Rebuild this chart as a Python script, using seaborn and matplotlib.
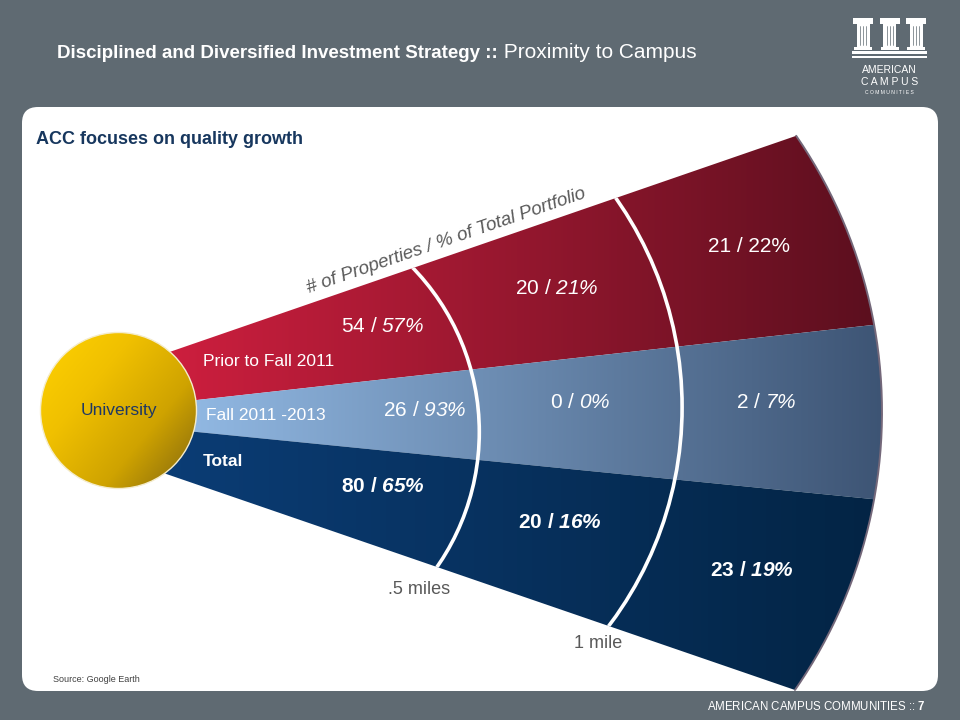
import numpy as np
import matplotlib
matplotlib.use("Agg")
import matplotlib.pyplot as plt
import seaborn as sns
from matplotlib.patches import Polygon, Circle, FancyBboxPatch, Rectangle

# data
bands = ["Prior to Fall 2011", "Fall 2011 -2013", "Total"]
rings = [".5 miles", "1 mile"]
prior_count = [54, 20, 21]
prior_pct = [57, 21, 22]
recent_count = [26, 0, 2]
recent_pct = [93, 0, 7]
total_count = [80, 20, 23]
total_pct = [65, 16, 19]

sns.set_theme(style="white")
plt.rcParams["font.family"] = ["Liberation Sans", "DejaVu Sans"]
plt.rcParams["mathtext.fontset"] = "custom"
plt.rcParams["mathtext.rm"] = "Liberation Sans"
plt.rcParams["mathtext.sf"] = "Liberation Sans:italic"   # italic digits (\mathit forces upright digits)
plt.rcParams["mathtext.bf"] = "Liberation Sans:bold"
plt.rcParams["mathtext.bfit"] = "Liberation Sans:italic:bold"

BG = "#5f6a72"
NAVY = "#17375e"
GREY = "#595959"

# fan geometry (pixel space, y down)
edges = [(413, 268, -0.345), (197, 400, -0.111), (197, 432, 0.0993), (437, 567, 0.3436)]
oc, R = (394.6, 412.0), 487.4
arcs = [((243.1, 432.1), 236.2), ((319.1, 407.2), 363.0)]
band_cols = [("#d01f3f", "#5a0f1e"), ("#96bee9", "#3d5474"), ("#0b3d76", "#032444")]


def line_y(line, x):
    x0, y0, m = line
    return y0 + m * (np.asarray(x) - x0)


def hit(line):
    x0, y0, m = line
    a = y0 - m * x0
    A = 1 + m * m
    B = -2 * oc[0] + 2 * m * (a - oc[1])
    C = oc[0] ** 2 + (a - oc[1]) ** 2 - R * R
    return (-B + np.sqrt(B * B - 4 * A * C)) / (2 * A)


def fan_xy(upper, lower, x_start=90):
    xu, xl = hit(upper), hit(lower)
    tx = np.linspace(x_start, xu, 40)
    a0 = np.arctan2(line_y(upper, xu) - oc[1], xu - oc[0])
    a1 = np.arctan2(line_y(lower, xl) - oc[1], xl - oc[0])
    t = np.linspace(a0, a1, 150)
    bx = np.linspace(xl, x_start, 40)
    return np.vstack([np.c_[tx, line_y(upper, tx)],
                      np.c_[oc[0] + R * np.cos(t), oc[1] + R * np.sin(t)],
                      np.c_[bx, line_y(lower, bx)]])


fig = plt.figure(figsize=(9.6, 7.2), dpi=100)
fig.patch.set_facecolor(BG)
ax = fig.add_axes([0, 0, 1, 1])
ax.set_facecolor(BG)

ax.add_patch(FancyBboxPatch((22, 107), 916, 584, boxstyle="round,pad=0,rounding_size=16",
                            fc="white", ec="none", zorder=1))

# gradient bands
for i, (c0, c1) in enumerate(band_cols):
    poly = Polygon(fan_xy(edges[i], edges[i + 1]), closed=True, fc="none", ec="none")
    ax.add_patch(poly)
    cmap = sns.blend_palette([c0, c1], as_cmap=True)
    im = ax.imshow(np.linspace(0, 1, 256)[None, :], cmap=cmap, extent=(150, 885, 700, 110),
                   aspect="auto", interpolation="bilinear", zorder=2)
    im.set_clip_path(poly)

# outer rim and white distance arcs
full = Polygon(fan_xy(edges[0], edges[-1]), closed=True, fc="none", ec="none")
ax.add_patch(full)
xu, xl = hit(edges[0]), hit(edges[-1])
t = np.linspace(np.arctan2(line_y(edges[0], xu) - oc[1], xu - oc[0]),
                np.arctan2(line_y(edges[-1], xl) - oc[1], xl - oc[0]), 200)
ax.plot(oc[0] + R * np.cos(t), oc[1] + R * np.sin(t), color="#74687a", lw=1.4, zorder=3)
for c, r in arcs:
    ring = Circle(c, r, fill=False, ec="white", lw=2.6, zorder=4)
    ax.add_patch(ring)
    ring.set_clip_path(full)

# university circle
cc, cr = (118.5, 410.5), 78
yy, xx = np.mgrid[0:1:200j, 0:1:200j]
gold = sns.blend_palette(["#ffd200", "#f0c000", "#cfa300", "#806510"], as_cmap=True)
disc = Circle(cc, cr, fc="none", ec="none")
ax.add_patch(disc)
im = ax.imshow((xx * 0.55 + yy * 0.45), cmap=gold,
               extent=(cc[0] - cr, cc[0] + cr, cc[1] + cr, cc[1] - cr),
               aspect="auto", interpolation="bilinear", zorder=5)
im.set_clip_path(disc)
ax.add_patch(Circle(cc, cr, fill=False, ec="#f4eccc", lw=1.0, zorder=6))
ax.text(cc[0], cc[1], "University", color="#1f3864", fontsize=12.5, ha="center", va="center", zorder=7)

# band names
cat_pos = [(203, 362), (206, 415), (203, 462)]
for name, (x, y), w in zip(bands, cat_pos, ["normal", "normal", "bold"]):
    ax.text(x, y, name, color="white", fontsize=12.5, fontweight=w, ha="left", va="center", zorder=7)

# value labels
label_pos = [[(383, 326), (557, 288), (749, 246)],
             [(425, 411), (580, 403), (766, 403)],
             [(383, 487), (560, 522), (752, 570)]]
pct_italic = [[True, True, False], [True, True, True], [True, True, True]]
rows = [(prior_count, prior_pct, "normal"), (recent_count, recent_pct, "normal"),
        (total_count, total_pct, "bold")]
for r, (cnt, pct, w) in enumerate(rows):
    for k in range(3):
        if pct_italic[r][k]:
            tag = r"\mathbfit" if w == "bold" else r"\mathsf"
            s = f"{cnt[k]} / ${tag}{{{pct[k]}\\%}}$"
        else:
            s = f"{cnt[k]} / {pct[k]}%"
        x, y = label_pos[r][k]
        ax.text(x, y, s, color="white", fontsize=15, fontweight=w, ha="center", va="center", zorder=7)

ax.text(446, 241, "# of Properties / % of Total Portfolio", color=GREY, fontsize=13.5, style="italic",
        rotation=19, rotation_mode="anchor", ha="center", va="center", zorder=7)
for s, (x, y) in zip(rings, [(419, 590), (598, 643)]):
    ax.text(x, y, s, color=GREY, fontsize=13, ha="center", va="center", zorder=7)

# titles and footer
t1 = ax.text(57, 53, "Disciplined and Diversified Investment Strategy ::", color="white", fontsize=13.5,
             fontweight="bold", ha="left", va="center")
ax.annotate(" Proximity to Campus", xy=(1, 0.5), xycoords=t1, color="white", fontsize=15,
            ha="left", va="center")
ax.text(36, 139, "ACC focuses on quality growth", color=NAVY, fontsize=13, fontweight="bold",
        ha="left", va="center", zorder=7)
ax.text(53, 680, "Source: Google Earth", color="#404040", fontsize=6.5, ha="left", va="center", zorder=7)
ax.text(926, 707, r"AMERICAN CAMPUS COMMUNITIES :: $\mathbf{7}$", color="white", fontsize=8.3,
        ha="right", va="center")

# logo
for cx in [863, 889.5, 916]:
    ax.add_patch(Rectangle((cx - 10, 18), 20, 6, fc="white", ec="none"))
    ax.add_patch(Rectangle((cx - 6.5, 24), 13, 23, fc="white", ec="none"))
    for dx in [-3, 0, 3]:
        ax.plot([cx + dx, cx + dx], [26, 45], color=BG, lw=0.5)
    ax.add_patch(Rectangle((cx - 9, 47), 18, 3, fc="white", ec="none"))
ax.add_patch(Rectangle((852, 51), 75, 3, fc="white", ec="none"))
ax.add_patch(Rectangle((852, 56), 75, 2, fc="white", ec="none"))
ax.text(889.5, 70, "AMERICAN", color="white", fontsize=7.5, ha="center", va="center")
ax.text(889.5, 82, "C A M P U S", color="white", fontsize=7.5, ha="center", va="center")
ax.text(889.5, 92, "C O M M U N I T I E S", color="white", fontsize=3.6, ha="center", va="center")

ax.set_xlim(0, 960)
ax.set_ylim(720, 0)
ax.set_aspect("auto")
ax.axis("off")
fig.savefig("out.png", dpi=100, facecolor=BG)
